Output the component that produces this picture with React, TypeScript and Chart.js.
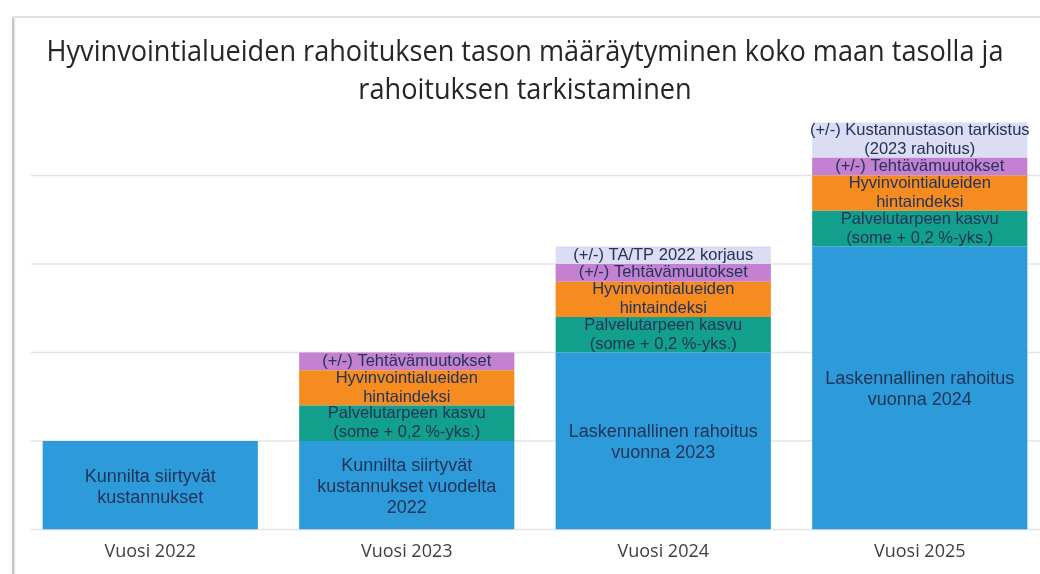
import React, { useEffect, useRef } from 'react';
import { Chart, registerables } from 'chart.js';

Chart.register(...registerables);

// ---- Data ----
const categories = ['Vuosi 2022', 'Vuosi 2023', 'Vuosi 2024', 'Vuosi 2025'];
const baseValues = [1, 1, 2, 3.2];
const serviceNeedValues = [null, 0.4, 0.4, 0.4];
const priceIndexValues = [null, 0.4, 0.4, 0.4];
const taskChangeValues = [null, 0.2, 0.2, 0.2];
const correctionValues = [null, null, 0.2, 0.4];
const gridValues = [0, 1, 2, 3, 4];

const baseLabels = [
  ['Kunnilta siirtyvät', 'kustannukset'],
  ['Kunnilta siirtyvät', 'kustannukset vuodelta', '2022'],
  ['Laskennallinen rahoitus', 'vuonna 2023'],
  ['Laskennallinen rahoitus', 'vuonna 2024'],
];
const serviceNeedLabels = [[], ['Palvelutarpeen kasvu', '(some + 0,2 %-yks.)'], ['Palvelutarpeen kasvu', '(some + 0,2 %-yks.)'], ['Palvelutarpeen kasvu', '(some + 0,2 %-yks.)']];
const priceIndexLabels = [[], ['Hyvinvointialueiden', 'hintaindeksi'], ['Hyvinvointialueiden', 'hintaindeksi'], ['Hyvinvointialueiden', 'hintaindeksi']];
const taskChangeLabels = [[], ['(+/-) Tehtävämuutokset'], ['(+/-) Tehtävämuutokset'], ['(+/-) Tehtävämuutokset']];
const correctionLabels = [[], [], ['(+/-) TA/TP 2022 korjaus'], ['(+/-) Kustannustason tarkistus', '(2023 rahoitus)']];

const titleLines = ['Hyvinvointialueiden rahoituksen tason määräytyminen koko maan tasolla ja', 'rahoituksen tarkistaminen'];

// ---- Styles ----
const segmentLabels = [baseLabels, serviceNeedLabels, priceIndexLabels, taskChangeLabels, correctionLabels];
const segmentColors = ['#2d9bd9', '#12a08c', '#f68b1f', '#c481d2', '#dcdcf2'];
const labelStyles = [
  { size: 18, lh: 21, dy: 2 },
  { size: 16.5, lh: 19, dy: 0 },
  { size: 16.5, lh: 19, dy: 0 },
  { size: 16.5, lh: 19, dy: 0 },
  { size: 16.5, lh: 19, dy: 0 },
];
const LABEL_COLOR = '#22345a';
const UI_FONT = "'Open Sans', sans-serif";

const gridPlugin = {
  id: 'customGrid',
  beforeDatasetsDraw(chart: any) {
    const { ctx } = chart;
    const yScale = chart.scales.y;
    ctx.save();
    ctx.strokeStyle = '#e4e4e4';
    ctx.lineWidth = 1.5;
    gridValues.forEach((v) => {
      const py = yScale.getPixelForValue(v);
      ctx.beginPath();
      ctx.moveTo(31, py);
      ctx.lineTo(chart.width, py);
      ctx.stroke();
    });
    ctx.restore();
  },
};

const segmentLabelPlugin = {
  id: 'segmentLabels',
  afterDatasetsDraw(chart: any) {
    const { ctx } = chart;
    chart.data.datasets.forEach((_ds: any, i: number) => {
      const meta = chart.getDatasetMeta(i);
      const labels = segmentLabels[i];
      const st = labelStyles[i];
      meta.data.forEach((bar: any, j: number) => {
        const lines = labels[j];
        if (!lines || !lines.length) return;
        const { x, y, base } = bar.getProps(['x', 'y', 'base'], true);
        const cy = (y + base) / 2 + st.dy;
        ctx.save();
        ctx.font = `${st.size}px 'Liberation Sans', Arial, sans-serif`;
        ctx.fillStyle = LABEL_COLOR;
        ctx.textAlign = 'center';
        ctx.textBaseline = 'middle';
        lines.forEach((line: string, k: number) => {
          ctx.fillText(line, x, cy + (k - (lines.length - 1) / 2) * st.lh);
        });
        ctx.restore();
      });
    });
  },
};

export default function App() {
  const canvasRef = useRef<HTMLCanvasElement | null>(null);

  useEffect(() => {
    if (!canvasRef.current) return;
    const series = [baseValues, serviceNeedValues, priceIndexValues, taskChangeValues, correctionValues];
    const chart = new Chart(canvasRef.current, {
      type: 'bar',
      data: {
        labels: categories,
        datasets: series.map((values, i) => ({
          label: `s${i}`,
          data: values as any,
          backgroundColor: segmentColors[i],
          borderWidth: 0,
          barPercentage: 1,
          categoryPercentage: 0.839,
        })),
      },
      options: {
        responsive: false,
        animation: false,
        devicePixelRatio: 1,
        layout: { padding: { left: 22, right: 0, top: 87, bottom: 7 } },
        plugins: {
          legend: { display: false },
          tooltip: { enabled: false },
          title: { display: false },
        },
        scales: {
          x: {
            stacked: true,
            grid: { display: false },
            border: { display: false },
            ticks: {
              color: '#404040',
              padding: 4,
              font: { family: UI_FONT, size: 18 },
            },
          },
          y: {
            stacked: true,
            display: false,
            min: 0,
            max: 5,
          },
        },
      },
      plugins: [gridPlugin, segmentLabelPlugin],
    });
    return () => chart.destroy();
  }, []);

  return (
    <div style={{ position: 'fixed', left: 0, top: 0, width: 1040, height: 574, overflow: 'hidden', background: '#ffffff' }}>
      <canvas ref={canvasRef} width={1048} height={574} style={{ position: 'absolute', left: 0, top: 0, width: 1048, height: 574 }} />
      <div style={{ position: 'absolute', left: 12, top: 16, width: 2, height: 560, background: '#c4c4c4', boxShadow: '1px 0 2px rgba(0,0,0,0.12)' }} />
      <div style={{ position: 'absolute', left: 12, top: 16, width: 1030, height: 1.5, background: '#e0e0e0' }} />
      <div
        style={{
          position: 'absolute',
          left: 10,
          top: 31,
          width: 1030,
          textAlign: 'center',
          fontFamily: UI_FONT,
          fontSize: 29,
          lineHeight: '38px',
          color: '#262626',
          transform: 'scaleX(0.935)',
          transformOrigin: '515px 0',
        }}
      >
        {titleLines.map((t, i) => (
          <div key={i}>{t}</div>
        ))}
      </div>
    </div>
  );
}
